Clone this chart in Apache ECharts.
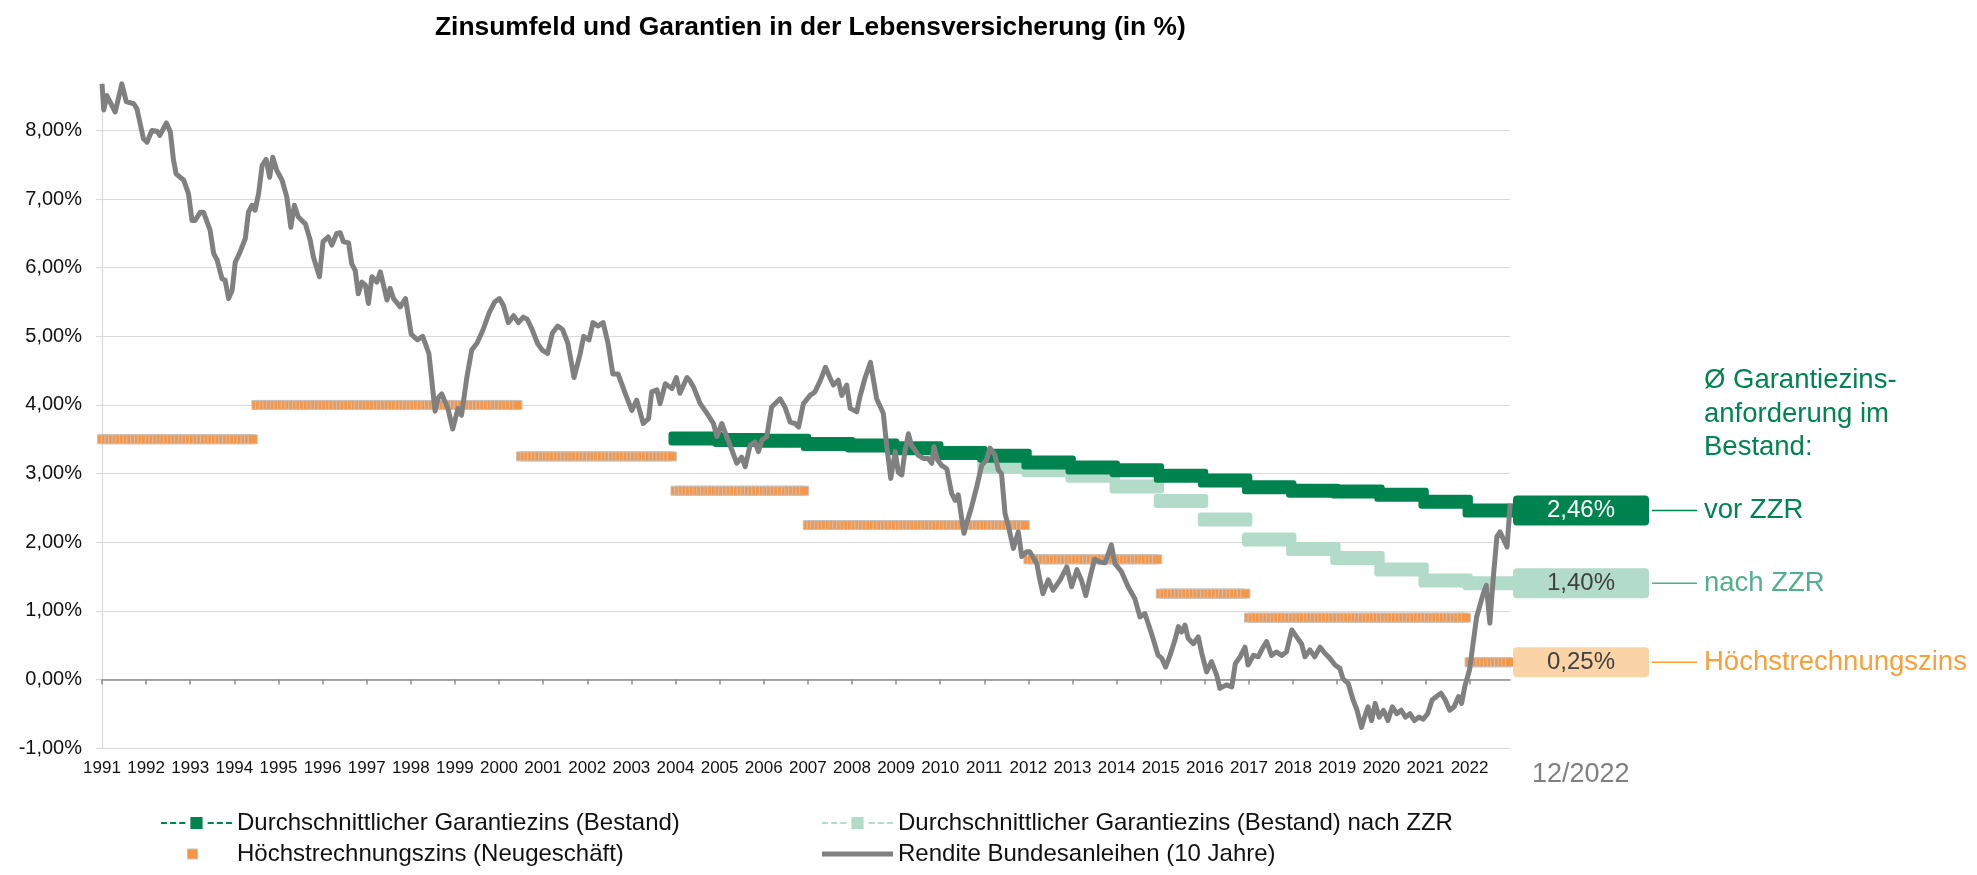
<!DOCTYPE html>
<html>
<head>
<meta charset="utf-8">
<title>Zinsumfeld und Garantien in der Lebensversicherung</title>
<script src="https://cdn.jsdelivr.net/npm/echarts@6/dist/echarts.min.js"></script>
<style>
html, body { margin: 0; padding: 0; background: #fff; }
#chart { width: 1977px; height: 875px; }
</style>
</head>
<body>
<div id="chart"></div>
<script>
// Beschriftungen der Achsen
var jahrLabels = [1991, 1992, 1993, 1994, 1995, 1996, 1997, 1998, 1999, 2000, 2001, 2002, 2003, 2004, 2005, 2006,
	2007, 2008, 2009, 2010, 2011, 2012, 2013, 2014, 2015, 2016, 2017, 2018, 2019, 2020, 2021, 2022];
var yTicks = [-1, 0, 1, 2, 3, 4, 5, 6, 7, 8];

// Durchschnittlicher Garantiezins (Bestand), je Jahr
var bestandJahr = [2004, 2005, 2006, 2007, 2008, 2009, 2010, 2011, 2012, 2013, 2014, 2015, 2016, 2017, 2018, 2019, 2020, 2021, 2022];
var bestandWert = [3.51, 3.49, 3.48, 3.43, 3.41, 3.37, 3.30, 3.26, 3.16, 3.09, 3.05, 2.97, 2.90, 2.80, 2.75, 2.74, 2.69, 2.59, 2.46];

// ... nach ZZR
var zzrJahr = [2011, 2012, 2013, 2014, 2015, 2016, 2017, 2018, 2019, 2020, 2021, 2022];
var zzrWert = [3.10, 3.05, 2.97, 2.81, 2.60, 2.33, 2.04, 1.90, 1.77, 1.60, 1.44, 1.40];

// Höchstrechnungszins (Neugeschäft): gültig von / bis (Monat als Jahresbruchteil)
var hrzVon = [1991.0, 1994.5, 2000.5, 2004.0, 2007.0, 2012.0, 2015.0, 2017.0, 2022.0];
var hrzBis = [1994.417, 2000.417, 2003.917, 2006.917, 2011.917, 2014.917, 2016.917, 2021.917, 2022.917];
var hrzWert = [3.5, 4.0, 3.25, 2.75, 2.25, 1.75, 1.25, 0.9, 0.25];

// Rendite Bundesanleihen (10 Jahre)
var renditeZeit = [
	1991.00, 1991.04, 1991.11, 1991.30, 1991.45, 1991.55, 1991.72, 1991.79, 1991.94, 1992.02, 1992.13, 1992.25,
	1992.31, 1992.46, 1992.55, 1992.62, 1992.68, 1992.77, 1992.85, 1992.96, 1993.04, 1993.11, 1993.23, 1993.30,
	1993.45, 1993.53, 1993.61, 1993.72, 1993.79, 1993.87, 1993.95, 1994.02, 1994.13, 1994.25, 1994.32, 1994.40,
	1994.47, 1994.55, 1994.63, 1994.72, 1994.80, 1994.87, 1994.96, 1995.08, 1995.19, 1995.28, 1995.36, 1995.45,
	1995.61, 1995.72, 1995.79, 1995.93, 1996.01, 1996.13, 1996.21, 1996.32, 1996.40, 1996.47, 1996.59, 1996.66,
	1996.74, 1996.81, 1996.89, 1996.97, 1997.04, 1997.12, 1997.23, 1997.31, 1997.46, 1997.53, 1997.61, 1997.76,
	1997.88, 1998.01, 1998.15, 1998.27, 1998.41, 1998.55, 1998.62, 1998.70, 1998.84, 1998.95, 1999.07, 1999.15,
	1999.27, 1999.38, 1999.50, 1999.64, 1999.78, 1999.90, 2000.01, 2000.10, 2000.21, 2000.33, 2000.44, 2000.55,
	2000.64, 2000.75, 2000.87, 2000.98, 2001.10, 2001.21, 2001.33, 2001.44, 2001.56, 2001.70, 2001.84, 2001.92,
	2002.04, 2002.13, 2002.24, 2002.36, 2002.47, 2002.58, 2002.70, 2002.86, 2003.01, 2003.12, 2003.27, 2003.39,
	2003.46, 2003.58, 2003.65, 2003.77, 2003.92, 2004.02, 2004.10, 2004.26, 2004.33, 2004.41, 2004.56, 2004.71,
	2004.86, 2004.94, 2005.05, 2005.16, 2005.28, 2005.39, 2005.50, 2005.58, 2005.69, 2005.80, 2005.88, 2005.96,
	2006.07, 2006.18, 2006.37, 2006.48, 2006.60, 2006.71, 2006.79, 2006.90, 2007.05, 2007.16, 2007.28, 2007.40,
	2007.50, 2007.58, 2007.69, 2007.77, 2007.88, 2007.96, 2008.11, 2008.18, 2008.30, 2008.42, 2008.56, 2008.71,
	2008.79, 2008.88, 2008.98, 2009.05, 2009.13, 2009.20, 2009.28, 2009.35, 2009.43, 2009.50, 2009.62, 2009.73,
	2009.81, 2009.86, 2009.94, 2010.03, 2010.15, 2010.26, 2010.34, 2010.41, 2010.47, 2010.54, 2010.62, 2010.71,
	2010.83, 2010.94, 2011.05, 2011.13, 2011.24, 2011.32, 2011.39, 2011.47, 2011.55, 2011.66, 2011.77, 2011.85,
	2011.96, 2012.03, 2012.19, 2012.26, 2012.33, 2012.45, 2012.56, 2012.72, 2012.87, 2012.98, 2013.10, 2013.20,
	2013.30, 2013.42, 2013.50, 2013.62, 2013.74, 2013.88, 2013.96, 2014.11, 2014.26, 2014.41, 2014.53, 2014.64,
	2014.79, 2014.94, 2015.02, 2015.11, 2015.21, 2015.32, 2015.40, 2015.47, 2015.55, 2015.62, 2015.74, 2015.85,
	2015.93, 2016.04, 2016.15, 2016.27, 2016.34, 2016.49, 2016.61, 2016.69, 2016.80, 2016.91, 2016.98, 2017.10,
	2017.21, 2017.32, 2017.40, 2017.51, 2017.62, 2017.74, 2017.85, 2017.97, 2018.08, 2018.19, 2018.27, 2018.38,
	2018.49, 2018.61, 2018.72, 2018.83, 2018.95, 2019.06, 2019.13, 2019.25, 2019.36, 2019.45, 2019.55, 2019.62,
	2019.70, 2019.78, 2019.86, 2019.95, 2020.05, 2020.15, 2020.25, 2020.35, 2020.45, 2020.55, 2020.65, 2020.75,
	2020.85, 2020.95, 2021.05, 2021.15, 2021.25, 2021.35, 2021.45, 2021.55, 2021.65, 2021.75, 2021.82, 2021.89,
	2022.00, 2022.16, 2022.31, 2022.38, 2022.46, 2022.54, 2022.62, 2022.69, 2022.85, 2022.92
];
var renditeWert = [
	8.68, 8.30, 8.51, 8.27, 8.68, 8.42, 8.39, 8.32, 7.88, 7.83, 8.00, 7.99,
	7.93, 8.11, 7.98, 7.57, 7.37, 7.32, 7.28, 7.08, 6.69, 6.69, 6.81, 6.81,
	6.55, 6.21, 6.11, 5.84, 5.82, 5.55, 5.67, 6.08, 6.23, 6.43, 6.81, 6.91,
	6.84, 7.08, 7.49, 7.58, 7.32, 7.61, 7.42, 7.28, 7.03, 6.59, 6.91, 6.74,
	6.64, 6.40, 6.16, 5.87, 6.38, 6.45, 6.33, 6.50, 6.51, 6.38, 6.36, 6.06,
	5.96, 5.62, 5.79, 5.75, 5.48, 5.87, 5.79, 5.94, 5.53, 5.70, 5.55, 5.43,
	5.55, 5.03, 4.95, 5.00, 4.75, 3.91, 4.10, 4.16, 3.95, 3.65, 3.95, 3.85,
	4.40, 4.80, 4.90, 5.10, 5.35, 5.50, 5.55, 5.45, 5.20, 5.30, 5.20, 5.28,
	5.25, 5.10, 4.90, 4.80, 4.75, 5.05, 5.15, 5.10, 4.90, 4.40, 4.75, 5.00,
	4.95, 5.20, 5.15, 5.20, 4.90, 4.45, 4.45, 4.17, 3.92, 4.07, 3.73, 3.80,
	4.19, 4.22, 4.02, 4.31, 4.24, 4.40, 4.17, 4.40, 4.35, 4.26, 4.02, 3.88,
	3.73, 3.54, 3.73, 3.54, 3.34, 3.15, 3.24, 3.10, 3.41, 3.46, 3.32, 3.49,
	3.54, 3.97, 4.09, 3.97, 3.75, 3.73, 3.68, 4.02, 4.14, 4.19, 4.35, 4.55,
	4.40, 4.29, 4.36, 4.14, 4.29, 3.95, 3.90, 4.12, 4.40, 4.62, 4.09, 3.88,
	3.39, 2.93, 3.32, 3.02, 2.98, 3.32, 3.58, 3.41, 3.34, 3.27, 3.22, 3.22,
	3.15, 3.39, 3.20, 3.12, 3.07, 2.71, 2.61, 2.69, 2.42, 2.13, 2.32, 2.51,
	2.81, 3.12, 3.20, 3.37, 3.27, 3.05, 3.00, 2.42, 2.22, 1.91, 2.15, 1.79,
	1.86, 1.86, 1.69, 1.45, 1.25, 1.45, 1.30, 1.45, 1.64, 1.35, 1.60, 1.45,
	1.22, 1.55, 1.75, 1.71, 1.70, 1.96, 1.69, 1.57, 1.35, 1.18, 0.91, 0.96,
	0.67, 0.35, 0.31, 0.18, 0.35, 0.57, 0.77, 0.69, 0.79, 0.60, 0.52, 0.62,
	0.38, 0.11, 0.26, 0.06, -0.13, -0.08, -0.11, 0.23, 0.33, 0.47, 0.21, 0.35,
	0.33, 0.47, 0.55, 0.35, 0.40, 0.35, 0.40, 0.72, 0.62, 0.52, 0.33, 0.43,
	0.33, 0.47, 0.38, 0.31, 0.21, 0.16, 0.01, -0.06, -0.30, -0.45, -0.70, -0.55,
	-0.40, -0.60, -0.35, -0.55, -0.45, -0.60, -0.40, -0.50, -0.45, -0.55, -0.50, -0.60,
	-0.55, -0.58, -0.50, -0.30, -0.25, -0.20, -0.30, -0.45, -0.40, -0.25, -0.35, -0.11,
	0.14, 0.91, 1.25, 1.37, 0.82, 1.50, 2.08, 2.15, 1.93, 2.56
];

var X_START = 1991, X_END = 2022 + 11 / 12;
var FONT = '"Liberation Sans", Arial, Helvetica, sans-serif';

var S_BESTAND = 'Durchschnittlicher Garantiezins (Bestand)';
var S_ZZR = 'Durchschnittlicher Garantiezins (Bestand) nach ZZR';
var S_HRZ = 'Höchstrechnungszins (Neugeschäft)';
var S_RENDITE = 'Rendite Bundesanleihen (10 Jahre)';

var C_DUNKEL = '#00844F', C_HELL = '#B2DBCA', C_ORANGE = '#F79646', C_GRAU = '#808080';

function prozent(v) {
	return v.toFixed(2).replace('.', ',') + '%';
}

// Jahresband aus Monatsmarkern (Jan bis Dez)
function bandRenderer(farbe) {
	return function (params, api) {
		var jahr = api.value(0), wert = api.value(1);
		var a = api.coord([jahr, wert]);
		var b = api.coord([jahr + 11 / 12, wert]);
		return {
			type: 'rect',
			shape: { x: a[0] - 7, y: a[1] - 7, width: b[0] - a[0] + 14, height: 14, r: 3 },
			style: { fill: farbe }
		};
	};
}

// Höchstrechnungszins: ein Marker je Monat, wie im Original überlappend
function hrzRenderer(params, api) {
	var von = api.value(0), bis = api.value(1), wert = api.value(2);
	var n = Math.round((bis - von) * 12);
	var kinder = [];
	for (var k = 0; k <= n; k++) {
		var p = api.coord([von + k / 12, wert]);
		kinder.push({
			type: 'rect',
			shape: { x: p[0] - 4.5, y: p[1] - 4.5, width: 9, height: 9 },
			style: { fill: C_ORANGE, stroke: '#C9C2BC', lineWidth: 1 }
		});
	}
	return { type: 'group', children: kinder };
}

var ICON_BAND = 'path://M0,6h6v2h-6z M9,6h6v2h-6z M18,6h6v2h-6z M29,1h12v12h-12z M46,6h6v2h-6z M55,6h6v2h-6z M64,6h6v2h-6z';
var ICON_MARKER = 'path://M0,0 M70,14 M26,2h10v10h-10z';
var ICON_LINIE = 'path://M0,5h70v5h-70z';

var chart = echarts.init(document.getElementById('chart'), null, { renderer: 'canvas' });

var option = {
	animation: false,
	backgroundColor: '#fff',
	textStyle: { fontFamily: FONT },
	title: {
		text: 'Zinsumfeld und Garantien in der Lebensversicherung (in %)',
		left: 430,
		top: 10,
		textStyle: { fontSize: 26.4, fontWeight: 'bold', color: '#000', fontFamily: FONT }
	},
	grid: { left: 102, right: 467, top: 82.5, bottom: 127 },
	legend: [{
		left: 156, top: 806, orient: 'vertical',
		itemWidth: 71, itemHeight: 14, itemGap: 7,
		selectedMode: false,
		textStyle: { fontSize: 24, color: '#111', fontFamily: FONT },
		data: [
			{ name: S_BESTAND, icon: ICON_BAND },
			{ name: S_HRZ, icon: ICON_MARKER, itemStyle: { color: C_ORANGE, borderColor: '#C9C2BC', borderWidth: 1 } }
		]
	}, {
		left: 817, top: 806, orient: 'vertical',
		itemWidth: 71, itemHeight: 14, itemGap: 7,
		selectedMode: false,
		textStyle: { fontSize: 24, color: '#111', fontFamily: FONT },
		data: [
			{ name: S_ZZR, icon: ICON_BAND },
			{ name: S_RENDITE, icon: ICON_LINIE }
		]
	}],
	xAxis: [{
		type: 'value', min: X_START, max: X_END, interval: 1,
		axisLine: { onZero: true, lineStyle: { color: '#8C8C8C', width: 1.5 } },
		axisTick: { show: true, length: 5, customValues: jahrLabels, lineStyle: { color: '#8C8C8C', width: 1.5 } },
		axisLabel: { show: false },
		splitLine: { show: false }
	}, {
		type: 'value', min: X_START, max: X_END, interval: 1, position: 'bottom',
		axisLine: { show: false, onZero: false },
		axisTick: { show: false },
		axisLabel: {
			show: true, margin: 12, fontSize: 17, color: '#111', fontFamily: FONT,
			customValues: jahrLabels,
			formatter: function (v) { return String(Math.round(v)); }
		},
		splitLine: { show: false }
	}],
	yAxis: {
		type: 'value', min: -1, max: 8.7, interval: 1,
		axisLine: { show: true, lineStyle: { color: '#D9D9D9', width: 1.2 } },
		axisTick: { show: true, length: 6, customValues: yTicks, lineStyle: { color: '#D9D9D9', width: 1.2 } },
		axisLabel: {
			margin: 20, fontSize: 20, color: '#111', fontFamily: FONT,
			customValues: yTicks,
			formatter: prozent
		},
		splitLine: { show: true, lineStyle: { color: '#D9D9D9', width: 1.2 } }
	},
	series: [{
		name: S_ZZR,
		type: 'custom',
		renderItem: bandRenderer(C_HELL),
		itemStyle: { color: C_HELL },
		encode: { x: 0, y: 1 },
		data: zzrJahr.map(function (j, i) { return [j, zzrWert[i]]; }),
		z: 2
	}, {
		name: S_BESTAND,
		type: 'custom',
		renderItem: bandRenderer(C_DUNKEL),
		itemStyle: { color: C_DUNKEL },
		encode: { x: 0, y: 1 },
		data: bestandJahr.map(function (j, i) { return [j, bestandWert[i]]; }),
		z: 3
	}, {
		name: S_HRZ,
		type: 'custom',
		renderItem: hrzRenderer,
		itemStyle: { color: C_ORANGE },
		encode: { x: [0, 1], y: 2 },
		data: hrzVon.map(function (v, i) { return [v, hrzBis[i], hrzWert[i]]; }),
		z: 3
	}, {
		name: S_RENDITE,
		type: 'line',
		showSymbol: false,
		symbol: 'none',
		lineStyle: { color: C_GRAU, width: 5, join: 'round' },
		itemStyle: { color: C_GRAU },
		data: renditeZeit.map(function (t, i) { return [t, renditeWert[i]]; }),
		z: 5
	}]
};
chart.setOption(option);

// Wertekästen und Beschriftung rechts vom Diagramm
var xEnde = chart.convertToPixel({ xAxisIndex: 0 }, X_END);
var boxLinks = xEnde + 3, boxBreite = 136;
var endLabels = [
	{ wert: bestandWert[bestandWert.length - 1], box: C_DUNKEL, zahl: '#fff', linie: C_DUNKEL, text: 'vor ZZR', textFarbe: C_DUNKEL },
	{ wert: zzrWert[zzrWert.length - 1], box: C_HELL, zahl: '#404040', linie: '#4FB08A', text: 'nach ZZR', textFarbe: '#4FB08A' },
	{ wert: hrzWert[hrzWert.length - 1], box: '#FAD3A6', zahl: '#404040', linie: '#F8A03A', text: 'Höchstrechnungszins', textFarbe: '#F8A03A' }
];
var grafik = [];
endLabels.forEach(function (e) {
	var y = chart.convertToPixel({ yAxisIndex: 0 }, e.wert);
	grafik.push({
		type: 'rect', z: 10,
		shape: { x: boxLinks, y: y - 15, width: boxBreite, height: 30, r: 4 },
		style: { fill: e.box }
	});
	grafik.push({
		type: 'text', z: 11, x: boxLinks + boxBreite / 2, y: y,
		style: { text: prozent(e.wert), fill: e.zahl, fontSize: 24, fontFamily: FONT, align: 'center', verticalAlign: 'middle' }
	});
	grafik.push({
		type: 'line', z: 10,
		shape: { x1: boxLinks + boxBreite + 3, y1: y, x2: boxLinks + boxBreite + 48, y2: y },
		style: { stroke: e.linie, lineWidth: 1.5 }
	});
	grafik.push({
		type: 'text', z: 11, x: boxLinks + boxBreite + 55, y: y,
		style: { text: e.text, fill: e.textFarbe, fontSize: 27.5, fontFamily: FONT, align: 'left', verticalAlign: 'middle' }
	});
});
grafik.push({
	type: 'text', z: 11, x: boxLinks + boxBreite + 55, y: 364,
	style: {
		text: 'Ø Garantiezins-\nanforderung im\nBestand:', fill: C_DUNKEL, fontSize: 27.5, lineHeight: 33.5,
		fontFamily: FONT, align: 'left', verticalAlign: 'top'
	}
});
grafik.push({
	type: 'text', z: 11, x: xEnde + 22, y: 775,
	style: { text: '12/2022', fill: '#808080', fontSize: 27, fontFamily: FONT, align: 'left', verticalAlign: 'middle' }
});
chart.setOption({ graphic: grafik });
</script>
</body>
</html>
